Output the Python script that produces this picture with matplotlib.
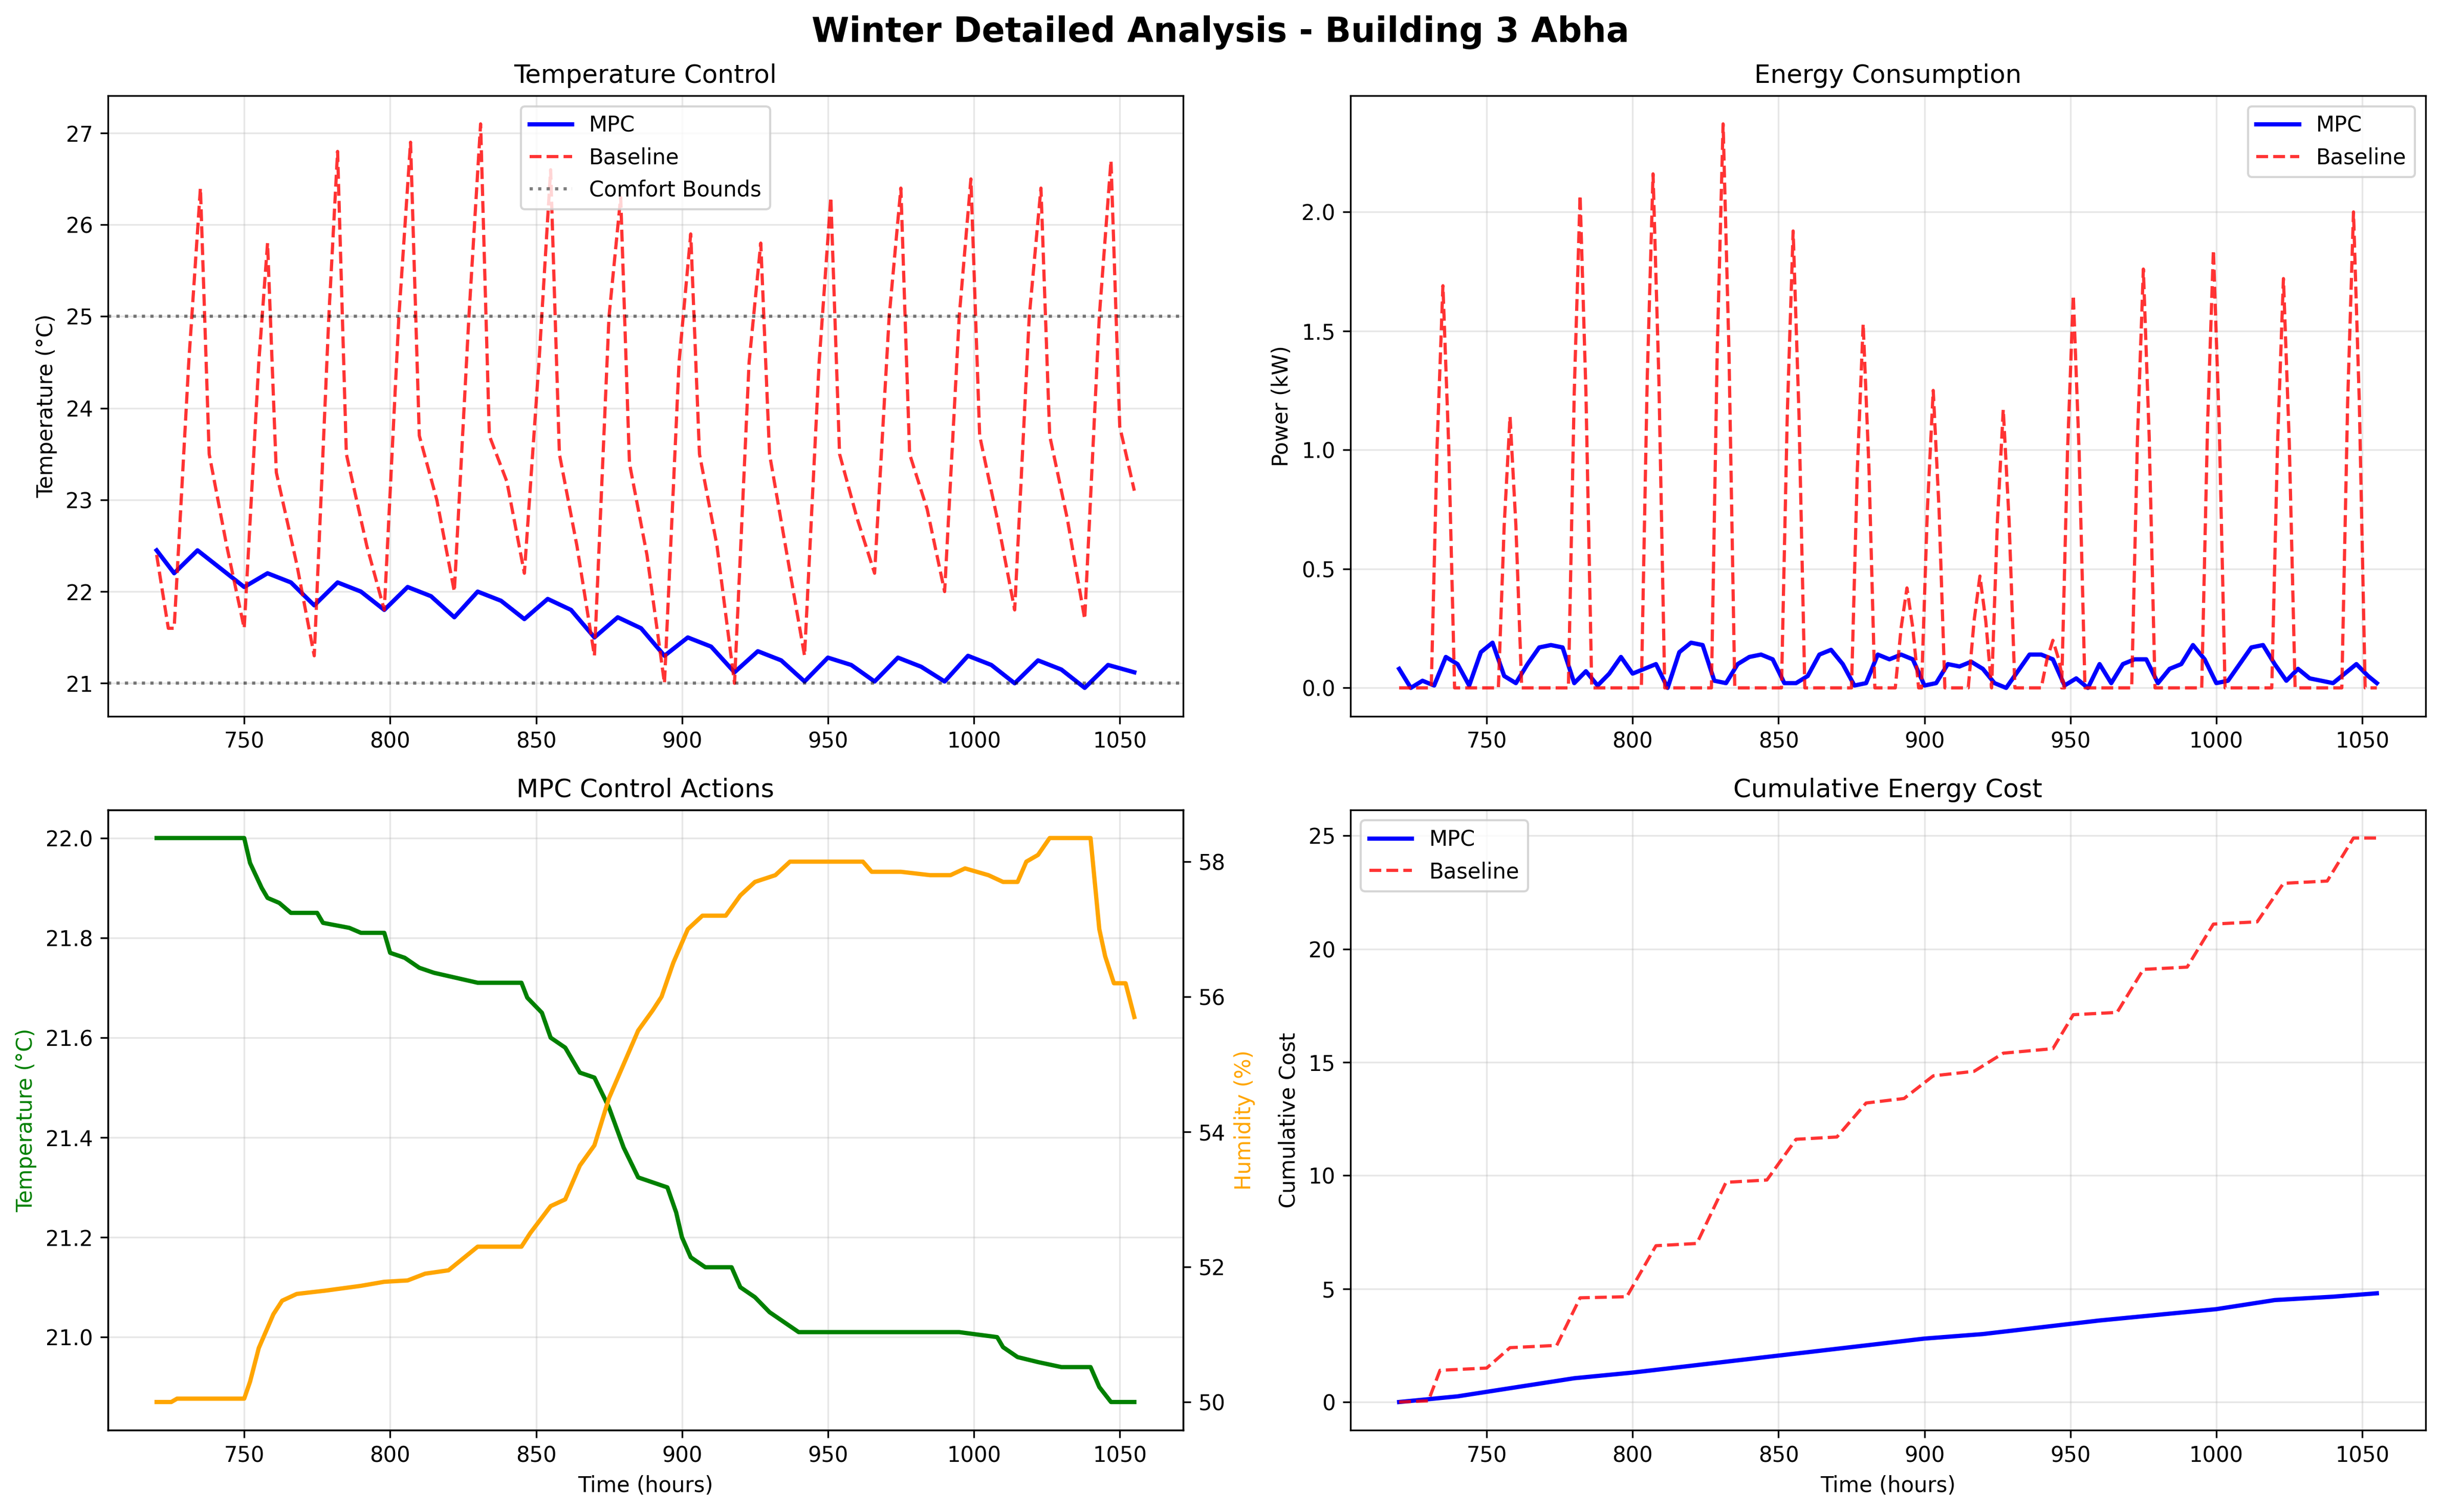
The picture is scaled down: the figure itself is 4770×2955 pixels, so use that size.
import numpy as np
import matplotlib
matplotlib.use("Agg")
import matplotlib.pyplot as plt

# temperature control
base_temp_t = [720, 724, 726, 731, 735, 738, 744, 750, 755, 758, 761, 768, 774, 779, 782, 785, 792, 798,
               803, 807, 810, 816, 822, 827, 831, 834, 840, 846, 851, 855, 858, 864, 870, 875, 879, 882,
               888, 894, 899, 903, 906, 912, 918, 923, 927, 930, 936, 942, 947, 951, 954, 960, 966, 971,
               975, 978, 984, 990, 995, 999, 1002, 1008, 1014, 1019, 1023, 1026, 1032, 1038, 1043, 1047,
               1050, 1055]
base_temp = [22.4, 21.6, 21.6, 24.5, 26.4, 23.5, 22.5, 21.6, 24.5, 25.8, 23.3, 22.3, 21.3, 25.0, 26.8, 23.5,
             22.5, 21.8, 25.0, 26.9, 23.7, 23.0, 22.0, 25.0, 27.1, 23.7, 23.2, 22.2, 24.5, 26.6, 23.5, 22.5,
             21.3, 25.0, 26.3, 23.4, 22.4, 21.0, 24.5, 25.9, 23.5, 22.5, 21.0, 24.5, 25.8, 23.5, 22.4, 21.3,
             24.5, 26.3, 23.5, 22.8, 22.2, 25.0, 26.4, 23.5, 22.9, 22.0, 25.0, 26.5, 23.7, 22.8, 21.8, 25.0,
             26.4, 23.7, 22.8, 21.7, 25.0, 26.7, 23.8, 23.1]
mpc_temp_t = [720, 726, 734, 742, 750, 758, 766, 774, 782, 790, 798, 806, 814, 822, 830, 838, 846, 854, 862,
              870, 878, 886, 894, 902, 910, 918, 926, 934, 942, 950, 958, 966, 974, 982, 990, 998, 1006, 1014,
              1022, 1030, 1038, 1046, 1055]
mpc_temp = [22.45, 22.2, 22.45, 22.25, 22.05, 22.2, 22.1, 21.85, 22.1, 22.0, 21.8, 22.05, 21.95, 21.72, 22.0,
            21.9, 21.7, 21.92, 21.8, 21.5, 21.72, 21.6, 21.3, 21.5, 21.4, 21.12, 21.35, 21.25, 21.02, 21.28,
            21.2, 21.02, 21.28, 21.18, 21.02, 21.3, 21.2, 21.0, 21.25, 21.15, 20.95, 21.2, 21.12]

# energy
spike_t = [735, 758, 782, 807, 831, 855, 879, 894, 903, 919, 927, 944, 951, 975, 999, 1023, 1047]
spike_h = [1.69, 1.14, 2.07, 2.16, 2.37, 1.92, 1.53, 0.42, 1.25, 0.47, 1.17, 0.2, 1.65, 1.76, 1.84, 1.72, 2.0]
mpc_pw_t = list(range(720, 1056, 4)) + [1055]
mpc_pw = [0.08, 0.0, 0.03, 0.01, 0.13, 0.1, 0.01, 0.15, 0.19, 0.05, 0.02, 0.1, 0.17, 0.18, 0.17, 0.02, 0.07,
          0.01, 0.06, 0.13, 0.06, 0.08, 0.1, 0.0, 0.15, 0.19, 0.18, 0.03, 0.02, 0.1, 0.13, 0.14, 0.12, 0.02,
          0.02, 0.05, 0.14, 0.16, 0.1, 0.01, 0.02, 0.14, 0.12, 0.14, 0.12, 0.01, 0.02, 0.1, 0.09, 0.11, 0.08,
          0.02, 0.0, 0.07, 0.14, 0.14, 0.12, 0.01, 0.04, 0.0, 0.1, 0.02, 0.1, 0.12, 0.12, 0.02, 0.08, 0.1,
          0.18, 0.12, 0.02, 0.03, 0.1, 0.17, 0.18, 0.1, 0.03, 0.08, 0.04, 0.03, 0.02, 0.06, 0.1, 0.05, 0.02]

# control actions
sp_t = [720, 750, 752, 756, 758, 762, 766, 775, 777, 786, 790, 798, 800, 805, 810, 815, 830, 845, 847, 852,
        855, 860, 865, 870, 875, 880, 885, 890, 895, 898, 900, 903, 908, 917, 920, 925, 930, 935, 940, 995,
        1008, 1010, 1015, 1022, 1030, 1040, 1043, 1047, 1055]
sp_temp = [22.0, 22.0, 21.95, 21.9, 21.88, 21.87, 21.85, 21.85, 21.83, 21.82, 21.81, 21.81, 21.77, 21.76,
           21.74, 21.73, 21.71, 21.71, 21.68, 21.65, 21.6, 21.58, 21.53, 21.52, 21.46, 21.38, 21.32, 21.31,
           21.3, 21.25, 21.2, 21.16, 21.14, 21.14, 21.1, 21.08, 21.05, 21.03, 21.01, 21.01, 21.0, 20.98, 20.96,
           20.95, 20.94, 20.94, 20.9, 20.87, 20.87]
hum_t = [720, 725, 727, 750, 752, 755, 760, 763, 768, 778, 790, 798, 806, 812, 820, 830, 845, 848, 855, 860,
         865, 870, 875, 880, 885, 890, 893, 897, 902, 907, 915, 920, 925, 932, 937, 962, 965, 975, 985, 992,
         997, 1005, 1010, 1015, 1018, 1022, 1026, 1040, 1043, 1045, 1048, 1052, 1055]
hum = [50.0, 50.0, 50.05, 50.05, 50.3, 50.8, 51.3, 51.5, 51.6, 51.65, 51.72, 51.78, 51.8, 51.9, 51.95, 52.3,
       52.3, 52.5, 52.9, 53.0, 53.5, 53.8, 54.5, 55.0, 55.5, 55.8, 56.0, 56.5, 57.0, 57.2, 57.2, 57.5, 57.7,
       57.8, 58.0, 58.0, 57.85, 57.85, 57.8, 57.8, 57.9, 57.8, 57.7, 57.7, 58.0, 58.1, 58.35, 58.35, 57.0,
       56.6, 56.2, 56.2, 55.7]

# cumulative cost
cum_base_t = [720, 730, 734, 750, 758, 774, 782, 798, 808, 822, 832, 846, 856, 870, 880, 893, 903, 917, 927,
              944, 951, 966, 975, 990, 999, 1014, 1023, 1038, 1047, 1055]
cum_base = [0, 0.05, 1.4, 1.5, 2.4, 2.5, 4.6, 4.65, 6.9, 7.0, 9.7, 9.8, 11.6, 11.7, 13.2, 13.4, 14.4, 14.6,
            15.4, 15.6, 17.1, 17.2, 19.1, 19.2, 21.1, 21.2, 22.9, 23.0, 24.9, 24.9]
cum_mpc_t = [720, 740, 760, 780, 800, 820, 840, 860, 880, 900, 920, 940, 960, 980, 1000, 1020, 1040, 1055]
cum_mpc = [0, 0.25, 0.65, 1.05, 1.3, 1.6, 1.9, 2.2, 2.5, 2.8, 3.0, 3.3, 3.6, 3.85, 4.1, 4.5, 4.65, 4.8]

fig, axs = plt.subplots(2, 2, figsize=(16, 10))
fig.suptitle('Winter Detailed Analysis - Building 3 Abha', fontsize=16, fontweight='bold')

ax = axs[0, 0]
ax.plot(mpc_temp_t, mpc_temp, 'b-', lw=2, label='MPC')
ax.plot(base_temp_t, base_temp, 'r--', lw=1.5, alpha=0.8, label='Baseline')
ax.axhline(21, color='k', ls=':', alpha=0.5, lw=1.5, label='Comfort Bounds')
ax.axhline(25, color='k', ls=':', alpha=0.5, lw=1.5)
ax.set_title('Temperature Control')
ax.set_ylabel('Temperature (°C)')
ax.legend(loc='upper center')
ax.grid(True, alpha=0.3)

ax = axs[0, 1]
bt, bp = [720], [0.0]
for t, h in zip(spike_t, spike_h):
    bt += [t - 4, t - 2, t, t + 2, t + 4]
    bp += [0.0, h * 0.6, h, h * 0.6, 0.0]
bt.append(1055); bp.append(0.0)
ax.plot(mpc_pw_t, mpc_pw, 'b-', lw=2, label='MPC')
ax.plot(bt, bp, 'r--', lw=1.5, alpha=0.8, label='Baseline')
ax.set_title('Energy Consumption')
ax.set_ylabel('Power (kW)')
ax.legend()
ax.grid(True, alpha=0.3)

ax = axs[1, 0]
ax.plot(sp_t, sp_temp, 'g-', lw=2)
ax.set_ylabel('Temperature (°C)', color='g')
ax.set_xlabel('Time (hours)')
ax.set_title('MPC Control Actions')
ax.grid(True, alpha=0.3)
ax2 = ax.twinx()
ax2.plot(hum_t, hum, color='orange', lw=2)
ax2.set_ylabel('Humidity (%)', color='orange')

ax = axs[1, 1]
ax.plot(cum_mpc_t, cum_mpc, 'b-', lw=2, label='MPC')
ax.plot(cum_base_t, cum_base, 'r--', lw=1.5, alpha=0.8, label='Baseline')
ax.set_title('Cumulative Energy Cost')
ax.set_xlabel('Time (hours)')
ax.set_ylabel('Cumulative Cost')
ax.legend()
ax.grid(True, alpha=0.3)

plt.tight_layout()
plt.savefig('out.png', dpi=300, bbox_inches='tight')
